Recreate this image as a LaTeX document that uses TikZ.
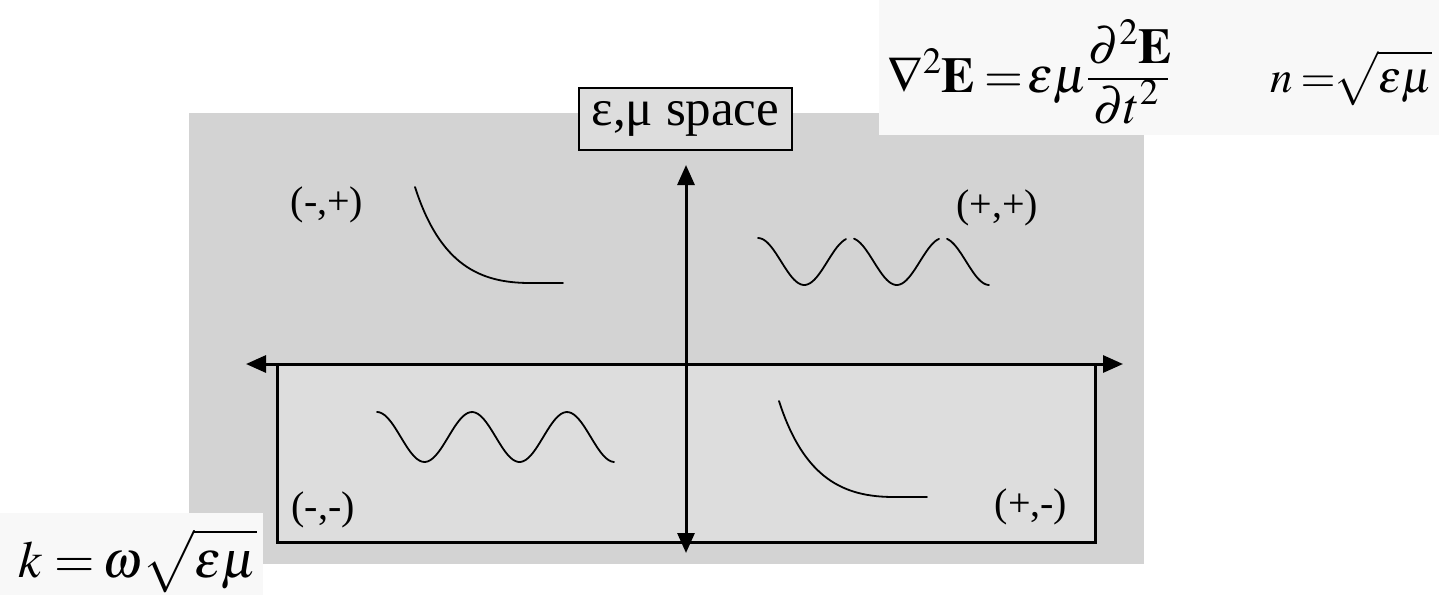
\documentclass[tikz,border=0pt]{standalone}
\usepackage{mathptmx}
\usepackage{fontspec}
\setmainfont{Liberation Serif}
\usetikzlibrary{arrows.meta}
\definecolor{bgGrey}{HTML}{D3D3D3}
\definecolor{innerGrey}{HTML}{DDDDDD}
\definecolor{paper}{HTML}{F8F8F8}
\tikzset{
  axisline/.style={line width=3pt, -{Triangle[length=20pt,width=17pt]}},
  curveline/.style={line width=1.8pt, line join=round, line cap=round},
  quadlabel/.style={inner sep=0pt, font=\fontsize{40}{48}\selectfont},
  eqtop/.style={inner sep=0pt, font=\fontsize{50}{56}\selectfont},
  eqn/.style={inner sep=0pt, font=\fontsize{45}{52}\selectfont},
  eqk/.style={inner sep=0pt, font=\fontsize{52}{58}\selectfont},
}
\begin{document}
\begin{tikzpicture}[x=1pt,y=-1pt]
\useasboundingbox (0,0) rectangle (1439,595);
% background panels
\fill[bgGrey] (189,113) rectangle (1144,564);
\fill[paper] (879,0) rectangle (1439,135);
\fill[paper] (0,513) rectangle (263,595);
% inner rectangle
\draw[line width=3pt, fill=innerGrey] (277,364) rectangle (1095,542);
% axes
\coordinate (origin) at (686,364);
\coordinate (xpos) at (1123,364);
\coordinate (xneg) at (246,364);
\coordinate (ypos) at (686,165);
\coordinate (yneg) at (686,553);
\draw[axisline] (origin) -- (xpos);
\draw[axisline] (origin) -- (xneg);
\draw[axisline] (origin) -- (ypos);
\draw[axisline] (origin) -- (yneg);
% title box
\node[draw, line width=1.5pt, fill=innerGrey, minimum width=213pt, minimum height=62pt, inner sep=0pt,
      font=\fontsize{51}{58}\selectfont] (title) at (685.5,119) {ε,μ space};
% quadrant labels
\node[quadlabel] (qmp) at (327,205) {(-,+)};
\node[quadlabel] (qpp) at (997,208) {(+,+)};
\node[quadlabel] (qmm) at (323,510) {(-,-)};
\node[quadlabel] (qpm) at (1031,507) {(+,-)};
% curves
\draw[curveline] (415,187) .. controls (440,265) and (480,283) .. (530,283) -- (563,283);
\draw[curveline] (779,401) .. controls (804,479) and (844,497) .. (894,497) -- (927,497);
\draw[curveline] plot[domain=377:614, samples=90, smooth] (\x, {437-25*cos(3.78947*(\x-377))});
\draw[curveline] plot[domain=758:846, samples=40, smooth] (\x, {261.5-23.5*cos(3.89189*(\x-758))});
\draw[curveline] plot[domain=854:939, samples=40, smooth] (\x, {261.5-23.5*cos(3.89189*(\x-758))});
\draw[curveline] plot[domain=947:989, samples=25, smooth] (\x, {261.5-23.5*cos(3.89189*(\x-758))});
% wave equation
\node[eqtop, anchor=base west] (lap) at (887,92) {$\nabla^{2}\mathbf{E}$};
\node[eqtop, anchor=base] (eqsign) at (1004,92) {$=$};
\node[eqtop, anchor=base west] (epsmu) at (1027,92) {$\varepsilon\mu$};
\coordinate (barL) at (1088,79);
\coordinate (barR) at (1168,79);
\draw[line width=2.2pt] (barL) -- (barR);
\node[eqtop, anchor=base] (num) at (1130,63) {$\partial^{2}\mathbf{E}$};
\node[eqtop, anchor=base] (den) at (1126,123) {$\partial t^{2}$};
% refractive index
\node[eqn, anchor=base west] (nlhs) at (1270,92) {$n$};
\node[eqn, anchor=base] (neqsign) at (1318,92) {$=$};
\node[eqn, anchor=base west] (nrhs) at (1333,92) {$\sqrt{\mathstrut\varepsilon\mu}$};
% wave number
\node[eqk, anchor=base west] (klhs) at (18,577) {$k$};
\node[eqk, anchor=base] (keqsign) at (75,577) {$=$};
\node[eqk, anchor=base west] (krhs) at (102,577) {$\omega\sqrt{\mathstrut\varepsilon\mu}$};
\end{tikzpicture}
\end{document}
